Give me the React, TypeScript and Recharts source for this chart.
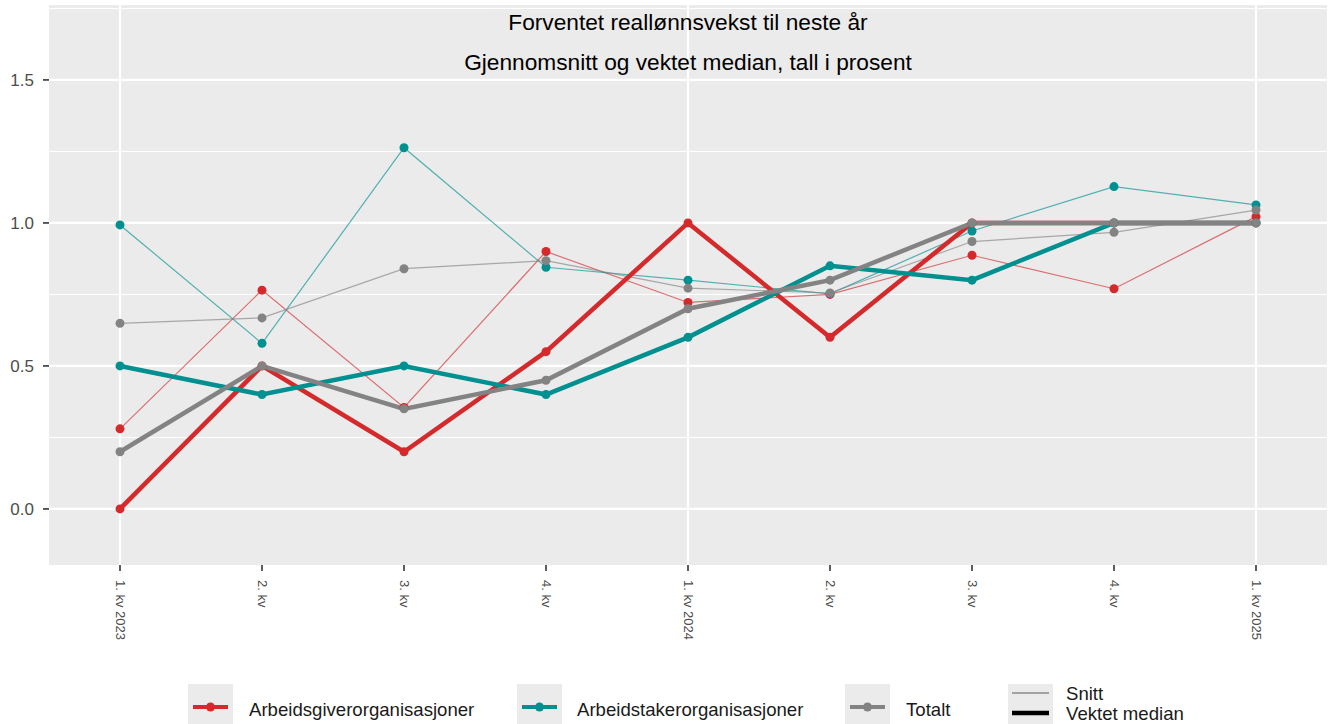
import React from "react";
import { LineChart, Line, XAxis, YAxis, CartesianGrid } from "recharts";

const quarters = [
  "1. kv 2023",
  "2. kv",
  "3. kv",
  "4. kv",
  "1. kv 2024",
  "2. kv",
  "3. kv",
  "4. kv",
  "1. kv 2025",
];

// Snitt (thin) and vektet median (thick), per gruppe
const giverSnitt = [0.28, 0.765, 0.355, 0.9, 0.722, 0.75, 0.887, 0.77, 1.022];
const giverMedian = [0.0, 0.5, 0.2, 0.55, 1.0, 0.6, 1.0, 1.0, 1.0];
const takerSnitt = [0.993, 0.579, 1.263, 0.845, 0.8, 0.752, 0.972, 1.127, 1.063];
const takerMedian = [0.5, 0.4, 0.5, 0.4, 0.6, 0.85, 0.8, 1.0, 1.0];
const totalSnitt = [0.649, 0.668, 0.84, 0.868, 0.772, 0.755, 0.935, 0.967, 1.045];
const totalMedian = [0.2, 0.5, 0.35, 0.45, 0.7, 0.8, 1.0, 1.0, 1.0];

const yTicks = [0, 0.5, 1.0, 1.5];
const yMinor = [0.25, 0.75, 1.25, 1.75];
const yearTicks = [0, 4, 8];

const RED = "#d42a2c";
const TEAL = "#009090";
const GREY = "#838383";
const FONT = "'Liberation Sans', Arial, Helvetica, sans-serif";

const data = quarters.map((q, i) => ({
  i,
  q,
  giverSnitt: giverSnitt[i],
  giverMedian: giverMedian[i],
  takerSnitt: takerSnitt[i],
  takerMedian: takerMedian[i],
  totalSnitt: totalSnitt[i],
  totalMedian: totalMedian[i],
}));

const series = [
  { key: "giverSnitt", color: RED, thick: false },
  { key: "takerSnitt", color: TEAL, thick: false },
  { key: "totalSnitt", color: GREY, thick: false },
  { key: "giverMedian", color: RED, thick: true },
  { key: "takerMedian", color: TEAL, thick: true },
  { key: "totalMedian", color: GREY, thick: true },
];

const legendItems = [
  { label: "Arbeidsgiverorganisasjoner", color: RED, box: 188, text: 249 },
  { label: "Arbeidstakerorganisasjoner", color: TEAL, box: 517, text: 577 },
  { label: "Totalt", color: GREY, box: 845, text: 906 },
];

function QuarterTick(props: any) {
  const { x, y, payload } = props;
  return (
    <text
      x={x}
      y={y}
      transform={`rotate(90, ${x}, ${y})`}
      textAnchor="start"
      dominantBaseline="central"
      fontSize={13}
      fontFamily={FONT}
      fill="#4d4d4d"
    >
      {quarters[payload.value]}
    </text>
  );
}

export default function App() {
  return (
    <div style={{ position: "absolute", left: 0, top: 0, width: 1330, height: 724, background: "#fff" }}>
      <LineChart width={1330} height={724} data={data} margin={{ top: 5, right: 3, bottom: 0, left: 0 }}>
        <CartesianGrid
          fill="#ebebeb"
          stroke="#ffffff"
          strokeWidth={1.1}
          vertical={false}
          horizontalValues={yMinor}
        />
        <CartesianGrid
          stroke="#ffffff"
          strokeWidth={2.2}
          horizontalValues={yTicks}
          verticalValues={yearTicks}
        />
        <XAxis
          type="number"
          dataKey="i"
          domain={[-0.5, 8.5]}
          ticks={[0, 1, 2, 3, 4, 5, 6, 7, 8]}
          interval={0}
          height={159}
          axisLine={false}
          tickLine={{ stroke: "#333", strokeWidth: 1.6 }}
          tickSize={6}
          tickMargin={9}
          tick={<QuarterTick />}
        />
        <YAxis
          type="number"
          domain={[-0.196, 1.762]}
          ticks={yTicks}
          width={49}
          axisLine={false}
          tickLine={{ stroke: "#333", strokeWidth: 1.6 }}
          tickSize={6}
          tickMargin={9}
          tickFormatter={(v: number) => v.toFixed(1)}
          tick={{ fill: "#4d4d4d", fontSize: 17, fontFamily: FONT }}
        />
        {series.map((s) => (
          <Line
            key={s.key}
            type="linear"
            dataKey={s.key}
            stroke={s.color}
            strokeWidth={s.thick ? 4.5 : 1.2}
            strokeOpacity={s.thick ? 1 : 0.65}
            dot={{ r: 4.5, fill: s.color, stroke: "none", strokeOpacity: 1, fillOpacity: 1 }}
            activeDot={false}
            isAnimationActive={false}
          />
        ))}
      </LineChart>
      <svg
        width={1330}
        height={724}
        style={{ position: "absolute", left: 0, top: 0, pointerEvents: "none" }}
        fontFamily={FONT}
      >
        <text x={688} y={30} textAnchor="middle" fontSize={22.7} fill="#000">
          Forventet reallønnsvekst til neste år
        </text>
        <text x={688} y={70} textAnchor="middle" fontSize={22.7} fill="#000">
          Gjennomsnitt og vektet median, tall i prosent
        </text>
        {legendItems.map((it) => (
          <g key={it.label}>
            <rect x={it.box} y={684} width={45} height={40} fill="#ebebeb" />
            <line x1={it.box + 5} x2={it.box + 40} y1={707} y2={707} stroke={it.color} strokeWidth={4} />
            <circle cx={it.box + 22.5} cy={707} r={4.5} fill={it.color} />
            <text x={it.text} y={715.5} fontSize={18.6} fill="#1a1a1a">
              {it.label}
            </text>
          </g>
        ))}
        <rect x={1008} y={684} width={45} height={40} fill="#ebebeb" />
        <line x1={1012} x2={1049} y1={693} y2={693} stroke="#8a8a8a" strokeWidth={1.3} />
        <line x1={1012} x2={1049} y1={713} y2={713} stroke="#000" strokeWidth={4.5} />
        <text x={1066} y={700} fontSize={18.6} fill="#1a1a1a">
          Snitt
        </text>
        <text x={1066} y={720} fontSize={18.6} fill="#1a1a1a">
          Vektet median
        </text>
      </svg>
    </div>
  );
}
